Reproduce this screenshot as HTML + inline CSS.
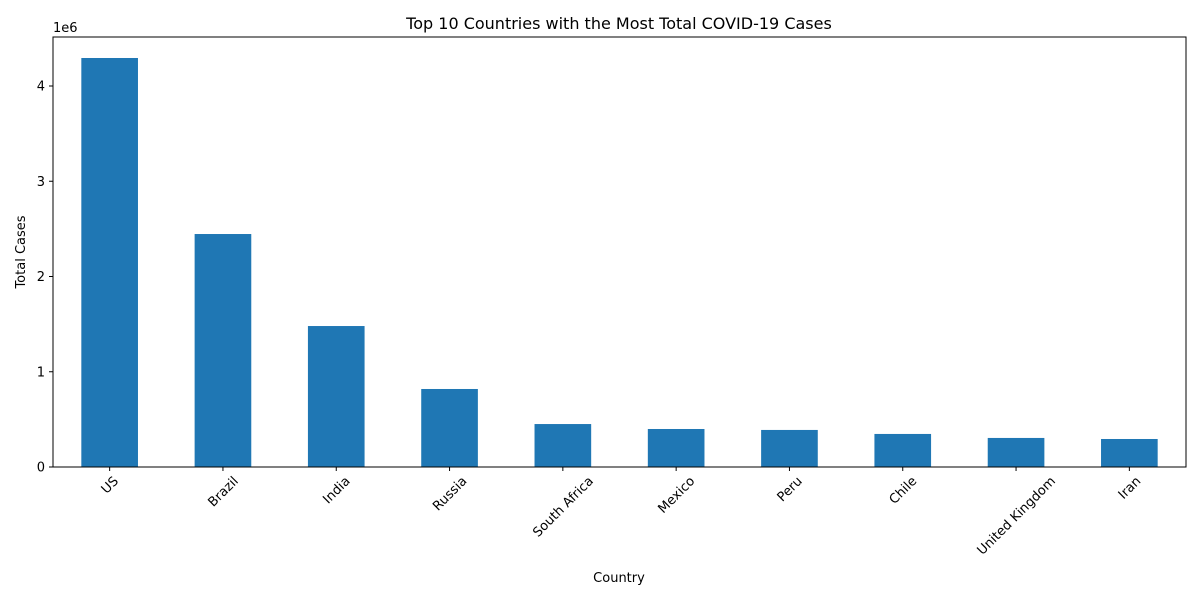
<!DOCTYPE html>
<html><head><meta charset="utf-8"><style>
body{margin:0;background:#fff;font-family:"Liberation Sans","DejaVu Sans",sans-serif}
</style></head><body>
<svg width="1200" height="600" xmlns="http://www.w3.org/2000/svg" id="chart" font-family="DejaVu Sans, Liberation Sans, sans-serif">
<text x="619" y="29" text-anchor="middle" font-size="16">Top 10 Countries with the Most Total COVID-19 Cases</text>
<text x="619" y="582" text-anchor="middle" font-size="13">Country</text>
<text transform="translate(25,252) rotate(-90)" text-anchor="middle" font-size="13">Total Cases</text>
<text x="53" y="32" font-size="13">1e6</text>
<g id="bars"></g><g id="ticks"></g>
<rect x="53" y="37" width="1133" height="430" fill="none" stroke="#000" stroke-width="1"/>
</svg>
<script>
const categories=["US","Brazil","India","Russia","South Africa","Mexico","Peru","Chile","United Kingdom","Iran"];
const values=[4294000,2446000,1480000,819000,451000,399000,389000,347000,305000,294000];
const yTicks=[0,1,2,3,4];
const yTickLabels=["0","1","2","3","4"];
const L=53,R=1186,T=37,B=467;
const ns="http://www.w3.org/2000/svg";
const x=i=>L+(i+0.5)*(R-L)/categories.length;
const y=v=>B-v/1e6*95.25;
const bars=document.getElementById('bars'),ticks=document.getElementById('ticks');
const bw=0.5*(R-L)/categories.length;
categories.forEach((c,i)=>{
 const r=document.createElementNS(ns,'rect');
 r.setAttribute('x',x(i)-bw/2);r.setAttribute('y',y(values[i]));
 r.setAttribute('width',bw);r.setAttribute('height',B-y(values[i]));r.setAttribute('fill','#1f77b4');
 
 
 bars.appendChild(r);
 const t=document.createElementNS(ns,'line');
 t.setAttribute('x1',x(i));t.setAttribute('x2',x(i));t.setAttribute('y1',B);t.setAttribute('y2',B+4);t.setAttribute('stroke','#000');
 ticks.appendChild(t);
 const tx=document.createElementNS(ns,'text');
 tx.setAttribute('text-anchor','middle');tx.setAttribute('font-size','13');tx.textContent=c;
 
 
 ticks.appendChild(tx);
 const w=tx.getComputedTextLength(), h=13;
 const cy=B+7+(w+h)*0.7071/2;
 tx.setAttribute('transform',`translate(${x(i)},${cy}) rotate(-45) translate(0,4.5)`);
});
yTicks.forEach((v,i)=>{
 const yy=y(v*1e6);
 const t=document.createElementNS(ns,'line');
 t.setAttribute('x1',L-4);t.setAttribute('x2',L);t.setAttribute('y1',yy);t.setAttribute('y2',yy);t.setAttribute('stroke','#000');
 ticks.appendChild(t);
 const tx=document.createElementNS(ns,'text');
 tx.setAttribute('x',L-8);tx.setAttribute('y',yy+4.5);tx.setAttribute('text-anchor','end');tx.setAttribute('font-size','13');
 tx.textContent=yTickLabels[i];
 
 
 ticks.appendChild(tx);
});
</script>
</body></html>
